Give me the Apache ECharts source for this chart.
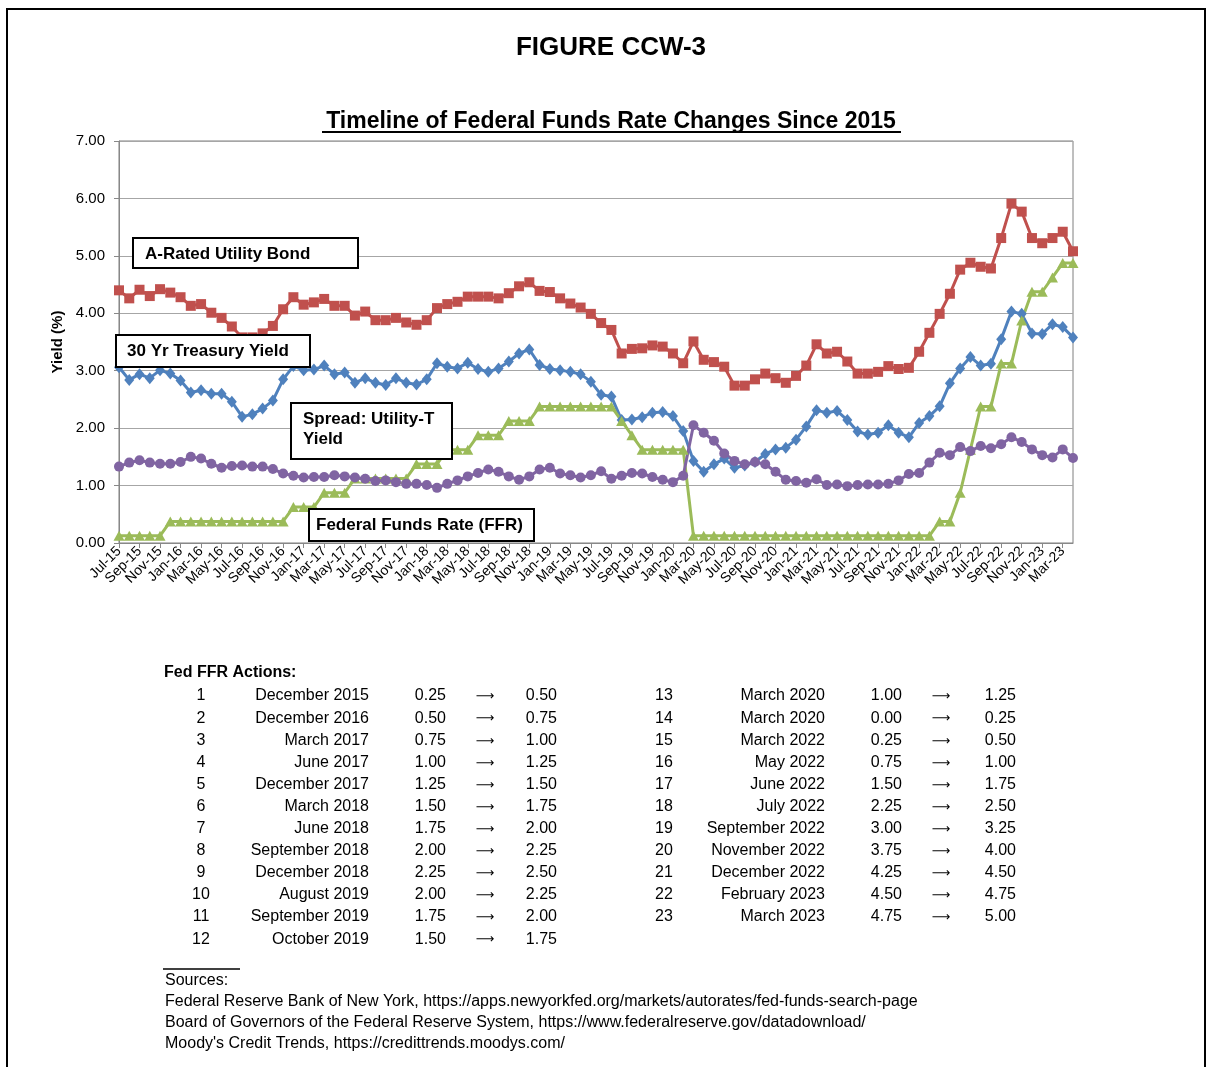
<!DOCTYPE html>
<html>
<head>
<meta charset="utf-8">
<title>Figure CCW-3</title>
<script src="https://cdn.jsdelivr.net/npm/echarts@6/dist/echarts.min.js"></script>
<style>
  html, body { margin: 0; padding: 0; background: #ffffff; }
  #chart { width: 1214px; height: 1067px; }
</style>
</head>
<body>
<div id="chart"></div>
<script>
// Monthly observations, Jul-2015 through Apr-2023
const months = [
  'Jul-15','Aug-15','Sep-15','Oct-15','Nov-15','Dec-15',
  'Jan-16','Feb-16','Mar-16','Apr-16','May-16','Jun-16','Jul-16','Aug-16','Sep-16','Oct-16','Nov-16','Dec-16',
  'Jan-17','Feb-17','Mar-17','Apr-17','May-17','Jun-17','Jul-17','Aug-17','Sep-17','Oct-17','Nov-17','Dec-17',
  'Jan-18','Feb-18','Mar-18','Apr-18','May-18','Jun-18','Jul-18','Aug-18','Sep-18','Oct-18','Nov-18','Dec-18',
  'Jan-19','Feb-19','Mar-19','Apr-19','May-19','Jun-19','Jul-19','Aug-19','Sep-19','Oct-19','Nov-19','Dec-19',
  'Jan-20','Feb-20','Mar-20','Apr-20','May-20','Jun-20','Jul-20','Aug-20','Sep-20','Oct-20','Nov-20','Dec-20',
  'Jan-21','Feb-21','Mar-21','Apr-21','May-21','Jun-21','Jul-21','Aug-21','Sep-21','Oct-21','Nov-21','Dec-21',
  'Jan-22','Feb-22','Mar-22','Apr-22','May-22','Jun-22','Jul-22','Aug-22','Sep-22','Oct-22','Nov-22','Dec-22',
  'Jan-23','Feb-23','Mar-23','Apr-23'
];

// A-rated utility bond yield (%)
const utilityYield = [
  4.40,4.26,4.41,4.30,4.42,4.36,4.28,4.13,4.16,4.01,3.92,3.77,3.58,3.58,3.65,3.78,4.07,4.28,4.15,4.19,4.25,4.13,4.13,3.96,
  4.03,3.88,3.88,3.92,3.84,3.80,3.88,4.09,4.16,4.20,4.29,4.29,4.29,4.26,4.35,4.47,4.54,4.39,4.37,4.26,4.17,4.10,3.99,3.83,
  3.71,3.30,3.38,3.39,3.44,3.42,3.30,3.13,3.51,3.19,3.15,3.07,2.74,2.74,2.85,2.95,2.87,2.79,2.91,3.09,3.46,3.30,
  3.33,3.16,2.95,2.95,2.98,3.08,3.03,3.05,3.33,3.66,3.99,4.34,4.76,4.88,4.81,4.78,5.31,5.91,5.77,5.31,5.22,5.31,5.42,5.08
];

// 30-year Treasury yield (%)
const treasuryYield = [
  3.06,2.84,2.94,2.87,3.01,2.95,2.83,2.62,2.66,2.60,2.60,2.46,2.20,2.24,2.34,2.48,2.85,3.08,3.01,3.02,3.09,2.94,2.97,2.79,
  2.87,2.79,2.75,2.87,2.79,2.76,2.85,3.13,3.07,3.04,3.14,3.03,2.98,3.04,3.16,3.30,3.37,3.10,3.03,3.01,2.98,2.94,2.81,2.58,
  2.55,2.14,2.15,2.19,2.27,2.28,2.21,1.95,1.43,1.24,1.37,1.47,1.31,1.35,1.41,1.55,1.63,1.66,1.80,2.03,2.31,2.27,
  2.30,2.14,1.94,1.89,1.92,2.05,1.92,1.84,2.09,2.21,2.38,2.78,3.04,3.24,3.09,3.12,3.55,4.03,3.99,3.65,3.64,3.81,3.76,3.58
];

// Spread: utility minus Treasury (%)
const spreadYield = [
  1.33,1.40,1.44,1.40,1.38,1.38,1.41,1.50,1.47,1.38,1.31,1.34,1.35,1.33,1.33,1.29,1.21,1.17,1.14,1.15,1.15,1.18,1.16,1.14,
  1.12,1.08,1.09,1.06,1.03,1.03,1.01,0.96,1.03,1.09,1.16,1.22,1.28,1.24,1.16,1.10,1.16,1.28,1.31,1.21,1.18,1.14,1.18,1.25,
  1.12,1.17,1.22,1.21,1.15,1.10,1.06,1.17,2.05,1.92,1.78,1.56,1.43,1.37,1.41,1.37,1.24,1.10,1.08,1.05,1.11,1.01,
  1.02,0.99,1.01,1.02,1.02,1.03,1.09,1.20,1.22,1.40,1.57,1.53,1.67,1.60,1.69,1.65,1.72,1.84,1.76,1.63,1.53,1.49,1.63,1.48
];

// Federal funds rate, midpoint of target range (%)
const fedFundsRate = [
  0.125,0.125,0.125,0.125,0.125,
  0.375,0.375,0.375,0.375,0.375,0.375,0.375,0.375,0.375,0.375,0.375,0.375,
  0.625,0.625,0.625,
  0.875,0.875,0.875,
  1.125,1.125,1.125,1.125,1.125,1.125,
  1.375,1.375,1.375,
  1.625,1.625,1.625,
  1.875,1.875,1.875,
  2.125,2.125,2.125,
  2.375,2.375,2.375,2.375,2.375,2.375,2.375,2.375,
  2.125,
  1.875,
  1.625,1.625,1.625,1.625,1.625,
  0.125,0.125,0.125,0.125,0.125,0.125,0.125,0.125,0.125,0.125,0.125,0.125,
  0.125,0.125,0.125,0.125,0.125,0.125,0.125,0.125,0.125,0.125,0.125,0.125,
  0.375,0.375,
  0.875,
  1.625,
  2.375,2.375,
  3.125,3.125,
  3.875,
  4.375,4.375,
  4.625,
  4.875,4.875
];

// Y-axis range
const yMin = 0, yMax = 7, yStep = 1;

// Fed FFR actions table
const actionDates = [
  'December 2015','December 2016','March 2017','June 2017','December 2017','March 2018',
  'June 2018','September 2018','December 2018','August 2019','September 2019','October 2019',
  'March 2020','March 2020','March 2022','May 2022','June 2022','July 2022',
  'September 2022','November 2022','December 2022','February 2023','March 2023'
];
const actionFrom = [
  '0.25','0.50','0.75','1.00','1.25','1.50','1.75','2.00','2.25','2.00','1.75','1.50',
  '1.00','0.00','0.25','0.75','1.50','2.25','3.00','3.75','4.25','4.50','4.75'
];
const actionTo = [
  '0.50','0.75','1.00','1.25','1.50','1.75','2.00','2.25','2.50','2.25','2.00','1.75',
  '1.25','0.25','0.50','1.00','1.75','2.50','3.25','4.00','4.50','4.75','5.00'
];

const sourceLines = [
  'Sources:',
  'Federal Reserve Bank of New York, https://apps.newyorkfed.org/markets/autorates/fed-funds-search-page',
  'Board of Governors of the Federal Reserve System, https://www.federalreserve.gov/datadownload/',
  "Moody's Credit Trends, https://credittrends.moodys.com/"
];

const FONT = '"Liberation Sans", Arial, Helvetica, sans-serif';
const ARROW_FONT = '"DejaVu Sans", "Liberation Sans", sans-serif';

function txt(x, y, text, opts) {
  opts = opts || {};
  const align = opts.align || 'left';
  return {
    type: 'text', x: x, y: y, z: 100, silent: true,
    style: {
      text: text,
      fontFamily: opts.family || FONT,
      fontSize: opts.size || 16,
      fontWeight: opts.weight || 'normal',
      fill: opts.color || '#000',
      align: align, textAlign: align,
      verticalAlign: 'middle', textVerticalAlign: 'middle'
    }
  };
}

function box(x, y, w, h) {
  return {
    type: 'rect', z: 99, silent: true,
    shape: { x: x, y: y, width: w, height: h },
    style: { fill: '#ffffff', stroke: '#000000', lineWidth: 2 }
  };
}

const graphics = [];

// outer frame
graphics.push({
  type: 'rect', z: 1, silent: true,
  shape: { x: 7, y: 9, width: 1198, height: 1100 },
  style: { fill: 'none', stroke: '#000', lineWidth: 2 }
});

// headings
graphics.push(txt(611, 48, 'FIGURE CCW-3', { size: 26, weight: 'bold', align: 'center' }));
graphics.push(txt(611, 122, 'Timeline of Federal Funds Rate Changes Since 2015', { size: 23, weight: 'bold', align: 'center' }));
graphics.push({
  type: 'line', z: 100, silent: true,
  shape: { x1: 322, y1: 132, x2: 901, y2: 132 },
  style: { stroke: '#000', lineWidth: 2 }
});

// series call-out boxes
graphics.push(box(133, 238, 225, 30));
graphics.push(txt(145, 254, 'A-Rated Utility Bond', { size: 17, weight: 'bold' }));
graphics.push(box(116, 335, 194, 32));
graphics.push(txt(127, 351, '30 Yr Treasury Yield', { size: 17, weight: 'bold' }));
graphics.push(box(291, 403, 161, 56));
graphics.push(txt(303, 419, 'Spread: Utility-T', { size: 17, weight: 'bold' }));
graphics.push(txt(303, 439, 'Yield', { size: 17, weight: 'bold' }));
graphics.push(box(309, 509, 225, 32));
graphics.push(txt(316, 525, 'Federal Funds Rate (FFR)', { size: 17, weight: 'bold' }));

// actions table
graphics.push(txt(164, 673, 'Fed FFR Actions:', { size: 16, weight: 'bold' }));
const rowTop = 696, rowStep = 22.1, perCol = 12;
const cols = [
  { num: 201, date: 369, from: 446, arrow: 485, to: 557 },
  { num: 664, date: 825, from: 902, arrow: 941, to: 1016 }
];
actionDates.forEach(function (d, i) {
  const c = cols[i < perCol ? 0 : 1];
  const r = i < perCol ? i : i - perCol;
  const y = rowTop + r * rowStep;
  graphics.push(txt(c.num, y, String(i + 1), { align: 'center' }));
  graphics.push(txt(c.date, y, d, { align: 'right' }));
  graphics.push(txt(c.from, y, actionFrom[i], { align: 'right' }));
  graphics.push(txt(c.arrow, y + 1, '\u27F6', { align: 'center', family: ARROW_FONT, size: 13 }));
  graphics.push(txt(c.to, y, actionTo[i], { align: 'right' }));
});

// sources
graphics.push({
  type: 'line', z: 100, silent: true,
  shape: { x1: 163, y1: 969, x2: 240, y2: 969 },
  style: { stroke: '#000', lineWidth: 1.5 }
});
sourceLines.forEach(function (s, i) {
  graphics.push(txt(165, 981 + i * 21, s, { size: 16 }));
});

function lineSeries(name, data, color, symbol, size) {
  return {
    name: name, type: 'line', data: data,
    symbol: symbol, symbolSize: size, showSymbol: true, showAllSymbol: true,
    lineStyle: { color: color, width: 3 },
    itemStyle: { color: color, borderWidth: 0 },
    emphasis: { disabled: true },
    silent: true
  };
}

const chart = echarts.init(document.getElementById('chart'), null, { renderer: 'canvas' });
chart.setOption({
  animation: false,
  backgroundColor: '#ffffff',
  textStyle: { fontFamily: FONT },
  grid: {
    left: 119, top: 141, width: 954, height: 402,
    show: true, borderColor: '#7f7f7f', borderWidth: 1, backgroundColor: 'transparent'
  },
  xAxis: {
    type: 'category', data: months, boundaryGap: false,
    axisLine: { show: true, lineStyle: { color: '#888', width: 1 } },
    axisTick: { show: true, interval: 1, length: 5, lineStyle: { color: '#888' } },
    axisLabel: { interval: 1, rotate: 45, fontSize: 14, color: '#000', fontFamily: FONT, margin: 6 },
    splitLine: { show: false }
  },
  yAxis: {
    type: 'value', min: yMin, max: yMax, interval: yStep,
    name: 'Yield (%)', nameLocation: 'middle', nameRotate: 90, nameGap: 50,
    nameTextStyle: { fontSize: 15, fontWeight: 'bold', color: '#000', fontFamily: FONT },
    axisLine: { show: true, lineStyle: { color: '#888', width: 1 } },
    axisTick: { show: true, length: 5, lineStyle: { color: '#888' } },
    axisLabel: { formatter: function (v) { return v.toFixed(2); }, fontSize: 15, color: '#000', fontFamily: FONT, margin: 14 },
    splitLine: { show: true, lineStyle: { color: '#a6a6a6', width: 1 } }
  },
  series: [
    lineSeries('A-Rated Utility Bond', utilityYield, '#C0504D', 'rect', 10),
    lineSeries('30 Yr Treasury Yield', treasuryYield, '#4F81BD', 'diamond', [10, 12]),
    lineSeries('Federal Funds Rate (FFR)', fedFundsRate, '#9BBB59', 'triangle', [11, 10]),
    lineSeries('Spread: Utility-T Yield', spreadYield, '#8064A2', 'circle', 10)
  ],
  graphic: { elements: graphics }
});
</script>
</body>
</html>
